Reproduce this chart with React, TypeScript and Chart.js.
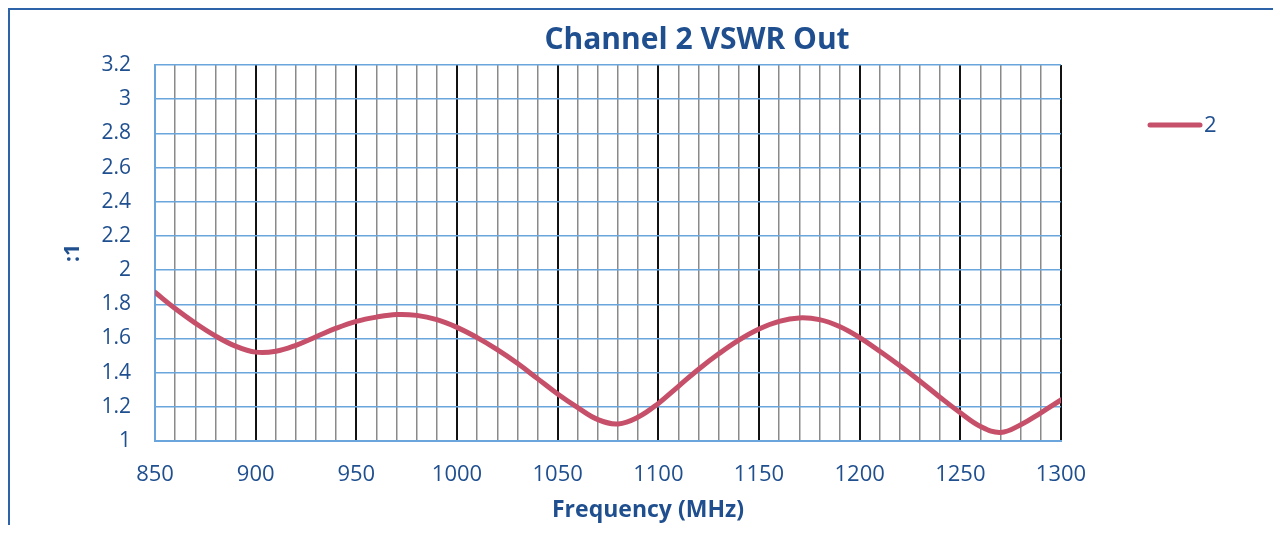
import React, { useEffect, useRef } from "react";
import { Chart, registerables } from "chart.js";

Chart.register(...registerables);

const chartTitle = "Channel 2 VSWR Out";
const xAxisTitle = "Frequency (MHz)";
const yAxisTitle = ":1";
const seriesName = "2";

const frequencies = [
  850, 860, 870, 880, 890, 900, 910, 920, 930, 940,
  950, 960, 970, 980, 990, 1000, 1010, 1020, 1030, 1040,
  1050, 1060, 1070, 1080, 1090, 1100, 1110, 1120, 1130, 1140,
  1150, 1160, 1170, 1180, 1190, 1200, 1210, 1220, 1230, 1240,
  1250, 1260, 1270, 1280, 1290, 1300,
];

const vswr = [
  1.87, 1.775, 1.69, 1.615, 1.555, 1.52, 1.525, 1.56, 1.61, 1.66,
  1.70, 1.725, 1.74, 1.735, 1.71, 1.665, 1.605, 1.535, 1.455, 1.365,
  1.275, 1.195, 1.125, 1.10, 1.14, 1.22, 1.32, 1.42, 1.51, 1.59,
  1.655, 1.70, 1.72, 1.71, 1.67, 1.605, 1.525, 1.44, 1.35, 1.255,
  1.165, 1.085, 1.05, 1.095, 1.165, 1.24,
];

const xMin = 850;
const xMax = 1300;
const xMinorStep = 10;
const xMajorStep = 50;
const yMin = 1;
const yMax = 3.2;
const yStep = 0.2;

const TEXT_BLUE = "#1f4f8f";
const GRID_BLUE = "#6aa6dc";
const LINE_RED = "#c64f69";
const FONT = "'Open Sans', 'Noto Sans', sans-serif";

export default function App() {
  const canvasRef = useRef<HTMLCanvasElement | null>(null);

  useEffect(() => {
    const canvas = canvasRef.current;
    if (!canvas) return;

    const overlay = {
      id: "overlayText",
      afterDraw(chart: any) {
        const ctx = chart.ctx;
        ctx.save();
        // Title
        ctx.fillStyle = TEXT_BLUE;
        ctx.font = `bold 30px ${FONT}`;
        ctx.textAlign = "center";
        ctx.textBaseline = "middle";
        ctx.fillText(chartTitle, 687, 30);
        // X axis title
        ctx.font = `bold 23px ${FONT}`;
        ctx.fillText(xAxisTitle, 638, 500);
        // Legend
        ctx.strokeStyle = LINE_RED;
        ctx.lineWidth = 5;
        ctx.lineCap = "round";
        ctx.beginPath();
        ctx.moveTo(1140, 115);
        ctx.lineTo(1190, 115);
        ctx.stroke();
        ctx.font = `22px ${FONT}`;
        ctx.textAlign = "left";
        ctx.fillText(seriesName, 1194, 116);
        ctx.restore();
      },
    };

    const chart = new Chart(canvas, {
      type: "line",
      data: {
        datasets: [
          {
            label: seriesName,
            data: frequencies.map((f, i) => ({ x: f, y: vswr[i] })),
            borderColor: LINE_RED,
            backgroundColor: LINE_RED,
            borderWidth: 5,
            pointRadius: 0,
            tension: 0.4,
            borderCapStyle: "round",
          },
        ],
      },
      options: {
        responsive: false,
        animation: false,
        devicePixelRatio: 1,
        layout: { padding: { left: 0, right: 220, top: 55, bottom: 0 } },
        plugins: {
          legend: { display: false },
          title: { display: false },
          tooltip: { enabled: false },
        },
        scales: {
          x: {
            type: "linear",
            min: xMin,
            max: xMax,
            afterFit: (s: any) => {
              s.height = 84;
            },
            border: { display: true, color: GRID_BLUE, width: 2 },
            grid: {
              drawTicks: false,
              color: (c: any) => {
                const v = c.tick ? c.tick.value : 0;
                if (v === xMin) return GRID_BLUE;
                return v % xMajorStep === 0 ? "#111111" : "#8a8a8a";
              },
              lineWidth: (c: any) => {
                const v = c.tick ? c.tick.value : 0;
                return v % xMajorStep === 0 ? 2 : 1.5;
              },
            },
            ticks: {
              stepSize: xMinorStep,
              autoSkip: false,
              maxRotation: 0,
              padding: 21,
              color: TEXT_BLUE,
              font: { family: FONT, size: 22 },
              callback: (v: any) => (Number(v) % xMajorStep === 0 ? String(v) : ""),
            },
          },
          y: {
            min: yMin,
            max: yMax,
            afterFit: (s: any) => {
              s.width = 145;
            },
            border: { display: true, color: GRID_BLUE, width: 2 },
            grid: {
              drawTicks: false,
              color: GRID_BLUE,
              lineWidth: 1.5,
            },
            ticks: {
              stepSize: yStep,
              padding: 24,
              color: TEXT_BLUE,
              font: { family: FONT, size: 21 },
              callback: (v: any) => String(Number(Number(v).toFixed(1))),
            },
            title: {
              display: true,
              text: yAxisTitle,
              color: TEXT_BLUE,
              font: { family: FONT, size: 21, weight: "bold" },
              padding: { top: 50, bottom: 0 },
            },
          },
        },
      },
      plugins: [overlay],
    });

    return () => chart.destroy();
  }, []);

  return (
    <div
      style={{
        borderLeft: "2px solid #2d63a8",
        borderTop: "2px solid #2d63a8",
        width: 1273,
        height: 517,
        boxSizing: "border-box",
        overflow: "hidden",
      }}
    >
      <canvas ref={canvasRef} width={1271} height={515} style={{ display: "block" }} />
    </div>
  );
}
